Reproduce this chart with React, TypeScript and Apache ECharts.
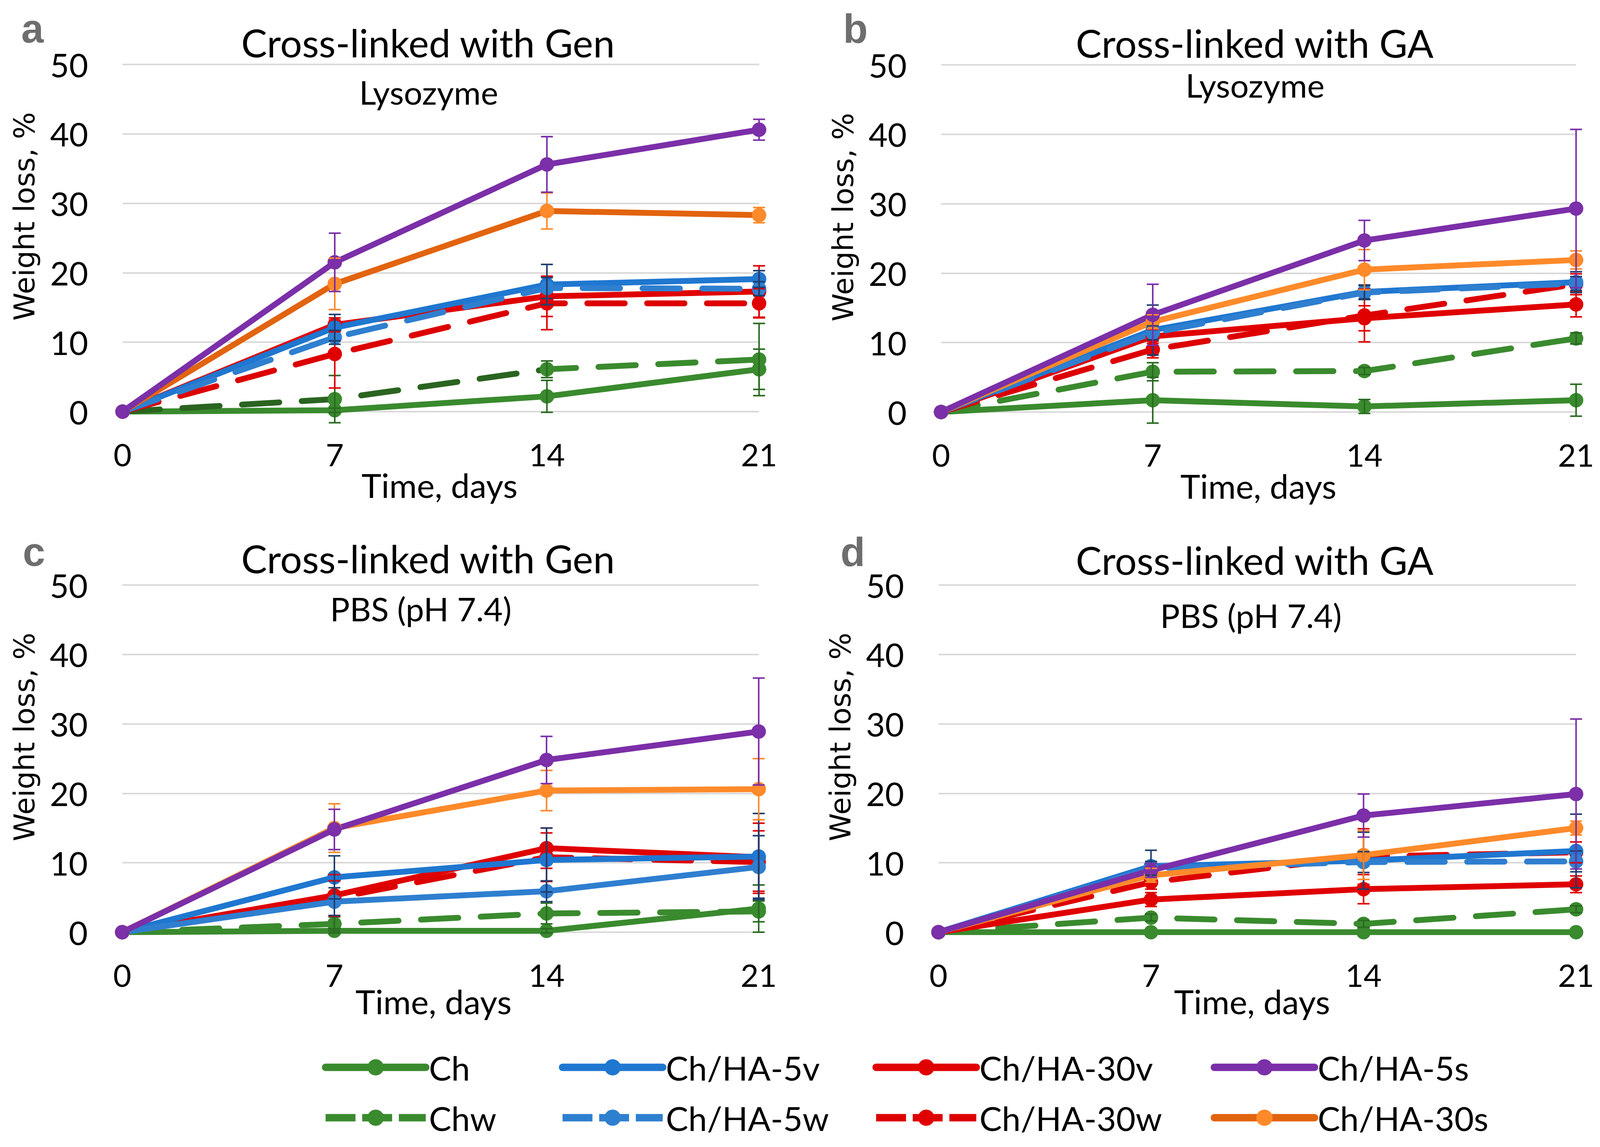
import React, { useEffect, useRef } from 'react';
import * as echarts from 'echarts';

// ---------- data ----------
const days = [0, 7, 14, 21];
const seriesNames = ['Ch', 'Chw', 'Ch/HA-5v', 'Ch/HA-5w', 'Ch/HA-30v', 'Ch/HA-30w', 'Ch/HA-5s', 'Ch/HA-30s'];

// a: Lysozyme, cross-linked with Gen
const lysGenValues = [
  [0, 0.2, 2.2, 6.1],
  [0, 1.8, 6.1, 7.5],
  [0, 12.1, 18.3, 19.1],
  [0, 10.7, 17.8, 17.7],
  [0, 12.5, 16.6, 17.3],
  [0, 8.3, 15.6, 15.6],
  [0, 21.5, 35.6, 40.6],
  [0, 18.4, 28.9, 28.3],
];
const lysGenErrors = [
  [0, 0.3, 2.3, 2.9],
  [0, 3.4, 1.2, 5.2],
  [0, 1.9, 2.9, 1.2],
  [0, 1.0, 1.5, 1.0],
  [0, 1.0, 2.9, 3.7],
  [0, 4.9, 3.8, 2.1],
  [0, 4.2, 4.0, 1.5],
  [0, 3.7, 2.6, 1.1],
];

// b: Lysozyme, cross-linked with GA
const lysGaValues = [
  [0, 1.7, 0.8, 1.7],
  [0, 5.8, 5.9, 10.6],
  [0, 11.8, 17.3, 18.7],
  [0, 11.4, 17.2, 18.5],
  [0, 10.9, 13.5, 15.5],
  [0, 9.0, 13.9, 18.4],
  [0, 14.0, 24.7, 29.3],
  [0, 13.0, 20.5, 21.9],
];
const lysGaErrors = [
  [0, 3.3, 1.0, 2.3],
  [0, 1.3, 0.5, 0.8],
  [0, 3.6, 1.0, 1.5],
  [0, 1.0, 1.0, 1.0],
  [0, 1.0, 1.8, 1.8],
  [0, 1.2, 3.8, 1.5],
  [0, 4.4, 2.9, 11.4],
  [0, 1.0, 2.9, 1.3],
];

// c: PBS, cross-linked with Gen
const pbsGenValues = [
  [0, 0.2, 0.2, 3.4],
  [0, 1.2, 2.7, 3.0],
  [0, 7.9, 10.4, 10.9],
  [0, 4.4, 5.9, 9.4],
  [0, 5.3, 12.1, 10.8],
  [0, 4.9, 10.8, 10.1],
  [0, 14.8, 24.8, 28.9],
  [0, 15.0, 20.4, 20.6],
];
const pbsGenErrors = [
  [0, 0.3, 0.3, 3.4],
  [0, 1.0, 1.5, 1.5],
  [0, 3.1, 4.6, 6.2],
  [0, 2.0, 1.5, 4.5],
  [0, 3.0, 2.9, 4.9],
  [0, 2.5, 3.5, 4.5],
  [0, 2.9, 3.4, 7.7],
  [0, 3.5, 2.9, 4.4],
];

// d: PBS, cross-linked with GA
const pbsGaValues = [
  [0, 0, 0, 0],
  [0, 2.1, 1.2, 3.3],
  [0, 9.5, 10.3, 11.7],
  [0, 9.2, 10.1, 10.2],
  [0, 4.7, 6.2, 6.9],
  [0, 7.2, 10.9, 11.5],
  [0, 8.9, 16.8, 19.9],
  [0, 8.2, 11.1, 15.0],
];
const pbsGaErrors = [
  [0, 0, 0, 0],
  [0, 0.5, 0.5, 0.5],
  [0, 2.3, 4.1, 5.3],
  [0, 1.0, 1.5, 1.5],
  [0, 1.0, 2.1, 1.2],
  [0, 1.0, 4.0, 1.5],
  [0, 1.0, 3.1, 10.8],
  [0, 1.0, 3.5, 1.0],
];

const panelTitles = ['Cross-linked with Gen', 'Cross-linked with GA', 'Cross-linked with Gen', 'Cross-linked with GA'];
const panelMedia = ['Lysozyme', 'Lysozyme', 'PBS (pH 7.4)', 'PBS (pH 7.4)'];
const panelLetters = ['a', 'b', 'c', 'd'];
const xAxisName = 'Time, days';
const yAxisName = 'Weight loss, %';

// ---------- styles / layout (in reference pixels; x is rescaled to the viewport) ----------
const W = 4281;
const H = 2937;
const FONT = 'Lato, "Open Sans", sans-serif';
const lineColors = ['#3a8a2e', '#3a8a2e', '#1f77d0', '#2f7fd0', '#e00000', '#dd0000', '#7b2fa8', '#ff8a2a'];
const markerColors = ['#3a8a2e', '#3a8a2e', '#1f77d0', '#2f7fd0', '#e00000', '#e00000', '#7b2fa8', '#ff8a2a'];
const errorColors = ['#2a6b22', '#2a6b22', '#1f3f6e', '#1f3f6e', '#e00000', '#e00000', '#7b2fa8', '#ff8a2a'];
const dashed = [false, true, false, true, false, true, false, false];
const drawOrder = [0, 1, 4, 5, 2, 3, 7, 6];

const grids = [
  { left: 328, top: 165, width: 1703, height: 889 },
  { left: 2518, top: 166, width: 1699, height: 889 },
  { left: 327, top: 1498, width: 1703, height: 889 },
  { left: 2511, top: 1498, width: 1706, height: 889 },
];
const panelData = [
  [lysGenValues, lysGenErrors],
  [lysGaValues, lysGaErrors],
  [pbsGenValues, pbsGenErrors],
  [pbsGaValues, pbsGaErrors],
];

function chwGradientA() {
  // panel a: Chw dashed line is dark green up to day 14, lighter green afterwards
  return new echarts.graphic.LinearGradient(0, 0, 1, 0, [
    { offset: 0, color: '#2b6420' },
    { offset: 0.665, color: '#2b6420' },
    { offset: 0.675, color: '#3a8a2e' },
    { offset: 1, color: '#3a8a2e' },
  ]);
}

const lineOverrides: Record<string, { color?: any; solid?: boolean }> = {
  '0-7': { color: '#e2640f' },
  '2-3': { solid: true },
};

const titlePos = [
  [1145, 108], [3357, 109], [1145, 1429], [3357, 1433],
];
const subPos = [
  [1147, 235], [3358, 217], [1126, 1558], [3347, 1575],
];
const letterPos = [
  [57, 73], [2256, 73], [61, 1413], [2249, 1413],
];
const yNamePos = [
  [65, 554], [2256, 556], [65, 1887], [2249, 1887],
];
const xNamePos = [
  [1176, 1241], [3367, 1243], [1160, 2563], [3350, 2563],
];
const legendCols = [856, 1490, 2329, 3234];
const legendRows = [2736, 2865];

function buildOption(sx: number) {
  const fs = (v: number) => Math.round(v * (0.5 + 0.5 * sx));
  const X = (v: number) => v * sx;

  const grid = grids.map((g) => ({
    left: X(g.left),
    top: g.top,
    width: X(g.width),
    height: g.height,
    containLabel: false,
  }));
  const xAxis = grids.map((_, i) => ({
    type: 'value',
    gridIndex: i,
    min: 0,
    max: 21,
    interval: 7,
    axisLine: { show: false },
    axisTick: { show: false },
    splitLine: { show: false },
    axisLabel: { fontSize: fs(82), fontFamily: FONT, color: '#000', margin: 69 },
  }));
  const yAxis = grids.map((_, i) => ({
    type: 'value',
    gridIndex: i,
    min: 0,
    max: 50,
    interval: 10,
    axisLine: { show: false },
    axisTick: { show: false },
    splitLine: { show: true, lineStyle: { color: '#d9d9d9', width: 4 } },
    axisLabel: { fontSize: fs(86), fontFamily: FONT, color: '#000', margin: X(92) },
  }));

  const series: any[] = [];
  panelData.forEach(([vals, errs], p) => {
    drawOrder.forEach((s) => {
      const ov = lineOverrides[`${p}-${s}`] || {};
      const isDashed = dashed[s] && !ov.solid;
      let color: any = ov.color || lineColors[s];
      if (p === 0 && s === 1) color = chwGradientA();
      series.push({
        type: 'line',
        name: seriesNames[s],
        xAxisIndex: p,
        yAxisIndex: p,
        data: days.map((d, k) => [d, vals[s][k]]),
        symbol: 'circle',
        symbolSize: 37,
        showSymbol: true,
        lineStyle: {
          color,
          width: 15,
          type: isDashed ? [X(100), X(60)] : 'solid',
          cap: 'round',
          join: 'round',
        },
        itemStyle: { color: markerColors[s] },
        z: 2,
        silent: true,
      });
    });
    drawOrder.forEach((s) => {
      const color = errorColors[s];
      series.push({
        type: 'custom',
        name: seriesNames[s],
        xAxisIndex: p,
        yAxisIndex: p,
        data: days
          .map((d, k) => [d, vals[s][k], errs[s][k]])
          .filter((e) => e[2] > 0),
        renderItem: (params: any, api: any) => {
          const x = api.value(0);
          const y = api.value(1);
          const e = api.value(2);
          const top = api.coord([x, y + e]);
          const bot = api.coord([x, y - e]);
          const hw = X(16);
          const st = { stroke: color, lineWidth: 4 };
          return {
            type: 'group',
            children: [
              { type: 'line', shape: { x1: top[0], y1: top[1], x2: bot[0], y2: bot[1] }, style: st },
              { type: 'line', shape: { x1: top[0] - hw, y1: top[1], x2: top[0] + hw, y2: top[1] }, style: st },
              { type: 'line', shape: { x1: bot[0] - hw, y1: bot[1], x2: bot[0] + hw, y2: bot[1] }, style: st },
            ],
          };
        },
        clip: false,
        z: 3,
        silent: true,
      });
    });
  });

  const legendOrder = [
    [0, 2, 4, 6],
    [1, 3, 5, 7],
  ];
  const legend: any[] = [];
  legendOrder.forEach((row, r) => {
    row.forEach((s, c) => {
      legend.push({
        data: [seriesNames[s]],
        left: X(legendCols[c]),
        top: legendRows[r] - 58,
        itemWidth: X(268),
        itemHeight: 52,
        selectedMode: false,
        textStyle: {
          fontSize: fs(88),
          fontFamily: FONT,
          color: '#000',
          padding: [0, 0, 0, 3],
          lineHeight: 100,
        },
        lineStyle: dashed[s]
          ? { width: 19, type: [X(80), X(18)], cap: 'butt', color: lineColors[s] }
          : { width: 19 },
      });
    });
  });

  const graphic: any[] = [];
  for (let i = 0; i < 4; i++) {
    graphic.push({
      type: 'text', x: X(titlePos[i][0]), y: titlePos[i][1],
      style: { text: panelTitles[i], fontSize: fs(101), fontFamily: FONT, fill: '#000', align: 'center', verticalAlign: 'middle' },
    });
    graphic.push({
      type: 'text', x: X(subPos[i][0]), y: subPos[i][1],
      style: { text: panelMedia[i], fontSize: fs(86), fontFamily: FONT, fill: '#000', align: 'center', verticalAlign: 'middle' },
    });
    graphic.push({
      type: 'text', x: X(letterPos[i][0]), y: letterPos[i][1],
      style: { text: panelLetters[i], fontSize: fs(105), fontWeight: 'bold', fontFamily: '"Liberation Sans", Arial, sans-serif', fill: '#6e6e6e', align: 'left', verticalAlign: 'middle' },
    });
    graphic.push({
      type: 'text', x: X(yNamePos[i][0]), y: yNamePos[i][1], rotation: Math.PI / 2,
      style: { text: yAxisName, fontSize: 73, fontFamily: '"DejaVu Sans", Verdana, sans-serif', fill: '#000', align: 'center', verticalAlign: 'middle' },
    });
    graphic.push({
      type: 'text', x: X(xNamePos[i][0]), y: xNamePos[i][1],
      style: { text: xAxisName, fontSize: fs(88), fontFamily: FONT, fill: '#000', align: 'center', verticalAlign: 'middle' },
    });
  }

  return {
    animation: false,
    backgroundColor: '#ffffff',
    grid,
    xAxis,
    yAxis,
    series,
    legend,
    graphic,
  };
}

export default function App() {
  const ref = useRef<HTMLDivElement>(null);
  const vw = typeof window !== 'undefined' ? Math.min(W, window.innerWidth || W) : W;
  const sx = vw / W;
  useEffect(() => {
    document.body.style.margin = '0';
    document.body.style.overflow = 'hidden';
    if (!ref.current) return;
    const chart = echarts.init(ref.current, undefined, { renderer: 'svg', width: Math.floor(W * sx), height: H });
    chart.setOption(buildOption(sx) as any);
    return () => chart.dispose();
  }, []);
  return <div ref={ref} style={{ width: Math.floor(W * sx), height: H }} />;
}
